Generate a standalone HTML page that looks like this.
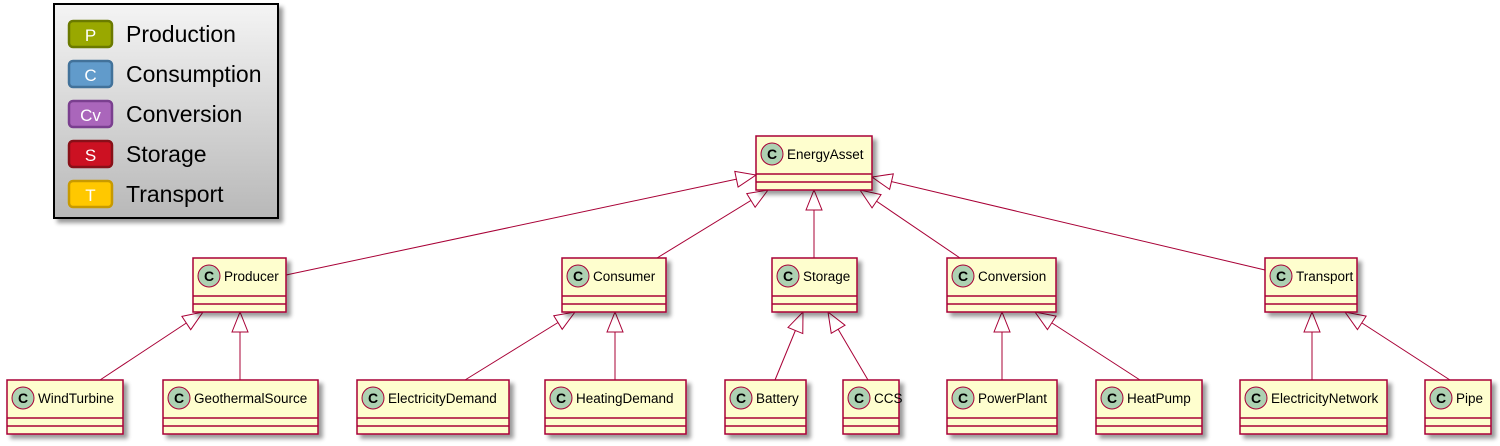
<!DOCTYPE html>
<html><head><meta charset="utf-8"><style>
html,body{margin:0;padding:0;background:#fff;width:1500px;height:446px;overflow:hidden}
text{font-family:"Liberation Sans",sans-serif}
</style></head><body>
<svg width="1500" height="446" viewBox="0 0 1500 446" xmlns="http://www.w3.org/2000/svg">
<defs>
<linearGradient id="lg" x1="0" y1="0" x2="0" y2="1"><stop offset="0" stop-color="#f4f4f4"/><stop offset="1" stop-color="#b8b8b8"/></linearGradient>
<marker id="tri" markerUnits="userSpaceOnUse" markerWidth="24" markerHeight="20" refX="21" refY="9" orient="auto">
<path d="M1,1 L21,9 L1,17 Z" fill="#fff" stroke="#A80036" stroke-width="1"/>
</marker>
<filter id="sh" x="-10%" y="-10%" width="130%" height="140%"><feGaussianBlur in="SourceAlpha" stdDeviation="2"/><feOffset dx="4" dy="4"/><feComponentTransfer><feFuncA type="linear" slope="0.4"/></feComponentTransfer><feMerge><feMergeNode/><feMergeNode in="SourceGraphic"/></feMerge></filter>
</defs>

<rect x="54" y="4" width="224" height="214" fill="url(#lg)" stroke="#000" stroke-width="2" filter="url(#sh)"/>
<g font-size="23">
<rect x="69" y="21" width="43" height="26" rx="4" fill="#99A800" stroke="#6B7A00" stroke-width="2.5"/><text x="90.5" y="41" fill="#fff" font-size="17" text-anchor="middle">P</text><text x="126" y="42">Production</text>
<rect x="69" y="61" width="43" height="26" rx="4" fill="#619BCB" stroke="#42729A" stroke-width="2.5"/><text x="90.5" y="81" fill="#fff" font-size="17" text-anchor="middle">C</text><text x="126" y="82">Consumption</text>
<rect x="69" y="101" width="43" height="26" rx="4" fill="#AA66BB" stroke="#7A3F8F" stroke-width="2.5"/><text x="90.5" y="121" fill="#fff" font-size="17" text-anchor="middle">Cv</text><text x="126" y="122">Conversion</text>
<rect x="69" y="141" width="43" height="26" rx="4" fill="#CC1122" stroke="#881018" stroke-width="2.5"/><text x="90.5" y="161" fill="#fff" font-size="17" text-anchor="middle">S</text><text x="126" y="162">Storage</text>
<rect x="69" y="181" width="43" height="26" rx="4" fill="#FFC800" stroke="#C89A00" stroke-width="2.5"/><text x="90.5" y="201" fill="#fff" font-size="17" text-anchor="middle">T</text><text x="126" y="202">Transport</text>
</g>

<g stroke="#A80036" stroke-width="1" fill="none" marker-end="url(#tri)">
<line x1="286" y1="275" x2="756" y2="175"/>
<line x1="657" y1="258" x2="768" y2="190"/>
<line x1="814" y1="258" x2="814" y2="190"/>
<line x1="960" y1="258" x2="860" y2="190"/>
<line x1="1265" y1="270" x2="872" y2="177"/>
<line x1="100" y1="380" x2="203" y2="312"/>
<line x1="240" y1="380" x2="240" y2="312"/>
<line x1="465" y1="380" x2="575" y2="312"/>
<line x1="615" y1="380" x2="615" y2="312"/>
<line x1="775" y1="380" x2="803" y2="312"/>
<line x1="868" y1="380" x2="828" y2="312"/>
<line x1="1002" y1="380" x2="1002" y2="312"/>
<line x1="1140" y1="380" x2="1035" y2="312"/>
<line x1="1312" y1="380" x2="1312" y2="312"/>
<line x1="1450" y1="380" x2="1345" y2="312"/>
</g>

<g font-size="13.5">
<g transform="translate(756,136)"><rect width="116" height="54" fill="#FEFECE" stroke="#A80036" stroke-width="1.5" filter="url(#sh)"/><line x1="0" y1="38" x2="116" y2="38" stroke="#A80036" stroke-width="1.5"/><line x1="0" y1="46" x2="116" y2="46" stroke="#A80036" stroke-width="1.5"/><circle cx="16" cy="18" r="11" fill="#ADD1B2" stroke="#A80036"/><text x="16" y="23" font-weight="bold" font-size="14" text-anchor="middle">C</text><text x="31" y="23">EnergyAsset</text></g>
<g transform="translate(193,258)"><rect width="93" height="54" fill="#FEFECE" stroke="#A80036" stroke-width="1.5" filter="url(#sh)"/><line x1="0" y1="38" x2="93" y2="38" stroke="#A80036" stroke-width="1.5"/><line x1="0" y1="46" x2="93" y2="46" stroke="#A80036" stroke-width="1.5"/><circle cx="16" cy="18" r="11" fill="#ADD1B2" stroke="#A80036"/><text x="16" y="23" font-weight="bold" font-size="14" text-anchor="middle">C</text><text x="31" y="23">Producer</text></g>
<g transform="translate(562,258)"><rect width="104" height="54" fill="#FEFECE" stroke="#A80036" stroke-width="1.5" filter="url(#sh)"/><line x1="0" y1="38" x2="104" y2="38" stroke="#A80036" stroke-width="1.5"/><line x1="0" y1="46" x2="104" y2="46" stroke="#A80036" stroke-width="1.5"/><circle cx="16" cy="18" r="11" fill="#ADD1B2" stroke="#A80036"/><text x="16" y="23" font-weight="bold" font-size="14" text-anchor="middle">C</text><text x="31" y="23">Consumer</text></g>
<g transform="translate(772,258)"><rect width="85" height="54" fill="#FEFECE" stroke="#A80036" stroke-width="1.5" filter="url(#sh)"/><line x1="0" y1="38" x2="85" y2="38" stroke="#A80036" stroke-width="1.5"/><line x1="0" y1="46" x2="85" y2="46" stroke="#A80036" stroke-width="1.5"/><circle cx="16" cy="18" r="11" fill="#ADD1B2" stroke="#A80036"/><text x="16" y="23" font-weight="bold" font-size="14" text-anchor="middle">C</text><text x="31" y="23">Storage</text></g>
<g transform="translate(947,258)"><rect width="109" height="54" fill="#FEFECE" stroke="#A80036" stroke-width="1.5" filter="url(#sh)"/><line x1="0" y1="38" x2="109" y2="38" stroke="#A80036" stroke-width="1.5"/><line x1="0" y1="46" x2="109" y2="46" stroke="#A80036" stroke-width="1.5"/><circle cx="16" cy="18" r="11" fill="#ADD1B2" stroke="#A80036"/><text x="16" y="23" font-weight="bold" font-size="14" text-anchor="middle">C</text><text x="31" y="23">Conversion</text></g>
<g transform="translate(1265,258)"><rect width="92" height="54" fill="#FEFECE" stroke="#A80036" stroke-width="1.5" filter="url(#sh)"/><line x1="0" y1="38" x2="92" y2="38" stroke="#A80036" stroke-width="1.5"/><line x1="0" y1="46" x2="92" y2="46" stroke="#A80036" stroke-width="1.5"/><circle cx="16" cy="18" r="11" fill="#ADD1B2" stroke="#A80036"/><text x="16" y="23" font-weight="bold" font-size="14" text-anchor="middle">C</text><text x="31" y="23">Transport</text></g>
<g transform="translate(7,380)"><rect width="116" height="54" fill="#FEFECE" stroke="#A80036" stroke-width="1.5" filter="url(#sh)"/><line x1="0" y1="38" x2="116" y2="38" stroke="#A80036" stroke-width="1.5"/><line x1="0" y1="46" x2="116" y2="46" stroke="#A80036" stroke-width="1.5"/><circle cx="16" cy="18" r="11" fill="#ADD1B2" stroke="#A80036"/><text x="16" y="23" font-weight="bold" font-size="14" text-anchor="middle">C</text><text x="31" y="23">WindTurbine</text></g>
<g transform="translate(163,380)"><rect width="155" height="54" fill="#FEFECE" stroke="#A80036" stroke-width="1.5" filter="url(#sh)"/><line x1="0" y1="38" x2="155" y2="38" stroke="#A80036" stroke-width="1.5"/><line x1="0" y1="46" x2="155" y2="46" stroke="#A80036" stroke-width="1.5"/><circle cx="16" cy="18" r="11" fill="#ADD1B2" stroke="#A80036"/><text x="16" y="23" font-weight="bold" font-size="14" text-anchor="middle">C</text><text x="31" y="23">GeothermalSource</text></g>
<g transform="translate(357,380)"><rect width="152" height="54" fill="#FEFECE" stroke="#A80036" stroke-width="1.5" filter="url(#sh)"/><line x1="0" y1="38" x2="152" y2="38" stroke="#A80036" stroke-width="1.5"/><line x1="0" y1="46" x2="152" y2="46" stroke="#A80036" stroke-width="1.5"/><circle cx="16" cy="18" r="11" fill="#ADD1B2" stroke="#A80036"/><text x="16" y="23" font-weight="bold" font-size="14" text-anchor="middle">C</text><text x="31" y="23">ElectricityDemand</text></g>
<g transform="translate(545,380)"><rect width="141" height="54" fill="#FEFECE" stroke="#A80036" stroke-width="1.5" filter="url(#sh)"/><line x1="0" y1="38" x2="141" y2="38" stroke="#A80036" stroke-width="1.5"/><line x1="0" y1="46" x2="141" y2="46" stroke="#A80036" stroke-width="1.5"/><circle cx="16" cy="18" r="11" fill="#ADD1B2" stroke="#A80036"/><text x="16" y="23" font-weight="bold" font-size="14" text-anchor="middle">C</text><text x="31" y="23">HeatingDemand</text></g>
<g transform="translate(725,380)"><rect width="81" height="54" fill="#FEFECE" stroke="#A80036" stroke-width="1.5" filter="url(#sh)"/><line x1="0" y1="38" x2="81" y2="38" stroke="#A80036" stroke-width="1.5"/><line x1="0" y1="46" x2="81" y2="46" stroke="#A80036" stroke-width="1.5"/><circle cx="16" cy="18" r="11" fill="#ADD1B2" stroke="#A80036"/><text x="16" y="23" font-weight="bold" font-size="14" text-anchor="middle">C</text><text x="31" y="23">Battery</text></g>
<g transform="translate(843,380)"><rect width="56" height="54" fill="#FEFECE" stroke="#A80036" stroke-width="1.5" filter="url(#sh)"/><line x1="0" y1="38" x2="56" y2="38" stroke="#A80036" stroke-width="1.5"/><line x1="0" y1="46" x2="56" y2="46" stroke="#A80036" stroke-width="1.5"/><circle cx="16" cy="18" r="11" fill="#ADD1B2" stroke="#A80036"/><text x="16" y="23" font-weight="bold" font-size="14" text-anchor="middle">C</text><text x="31" y="23">CCS</text></g>
<g transform="translate(947,380)"><rect width="110" height="54" fill="#FEFECE" stroke="#A80036" stroke-width="1.5" filter="url(#sh)"/><line x1="0" y1="38" x2="110" y2="38" stroke="#A80036" stroke-width="1.5"/><line x1="0" y1="46" x2="110" y2="46" stroke="#A80036" stroke-width="1.5"/><circle cx="16" cy="18" r="11" fill="#ADD1B2" stroke="#A80036"/><text x="16" y="23" font-weight="bold" font-size="14" text-anchor="middle">C</text><text x="31" y="23">PowerPlant</text></g>
<g transform="translate(1096,380)"><rect width="106" height="54" fill="#FEFECE" stroke="#A80036" stroke-width="1.5" filter="url(#sh)"/><line x1="0" y1="38" x2="106" y2="38" stroke="#A80036" stroke-width="1.5"/><line x1="0" y1="46" x2="106" y2="46" stroke="#A80036" stroke-width="1.5"/><circle cx="16" cy="18" r="11" fill="#ADD1B2" stroke="#A80036"/><text x="16" y="23" font-weight="bold" font-size="14" text-anchor="middle">C</text><text x="31" y="23">HeatPump</text></g>
<g transform="translate(1240,380)"><rect width="147" height="54" fill="#FEFECE" stroke="#A80036" stroke-width="1.5" filter="url(#sh)"/><line x1="0" y1="38" x2="147" y2="38" stroke="#A80036" stroke-width="1.5"/><line x1="0" y1="46" x2="147" y2="46" stroke="#A80036" stroke-width="1.5"/><circle cx="16" cy="18" r="11" fill="#ADD1B2" stroke="#A80036"/><text x="16" y="23" font-weight="bold" font-size="14" text-anchor="middle">C</text><text x="31" y="23">ElectricityNetwork</text></g>
<g transform="translate(1425,380)"><rect width="66" height="54" fill="#FEFECE" stroke="#A80036" stroke-width="1.5" filter="url(#sh)"/><line x1="0" y1="38" x2="66" y2="38" stroke="#A80036" stroke-width="1.5"/><line x1="0" y1="46" x2="66" y2="46" stroke="#A80036" stroke-width="1.5"/><circle cx="16" cy="18" r="11" fill="#ADD1B2" stroke="#A80036"/><text x="16" y="23" font-weight="bold" font-size="14" text-anchor="middle">C</text><text x="31" y="23">Pipe</text></g>
</g>
</svg>
</body></html>
